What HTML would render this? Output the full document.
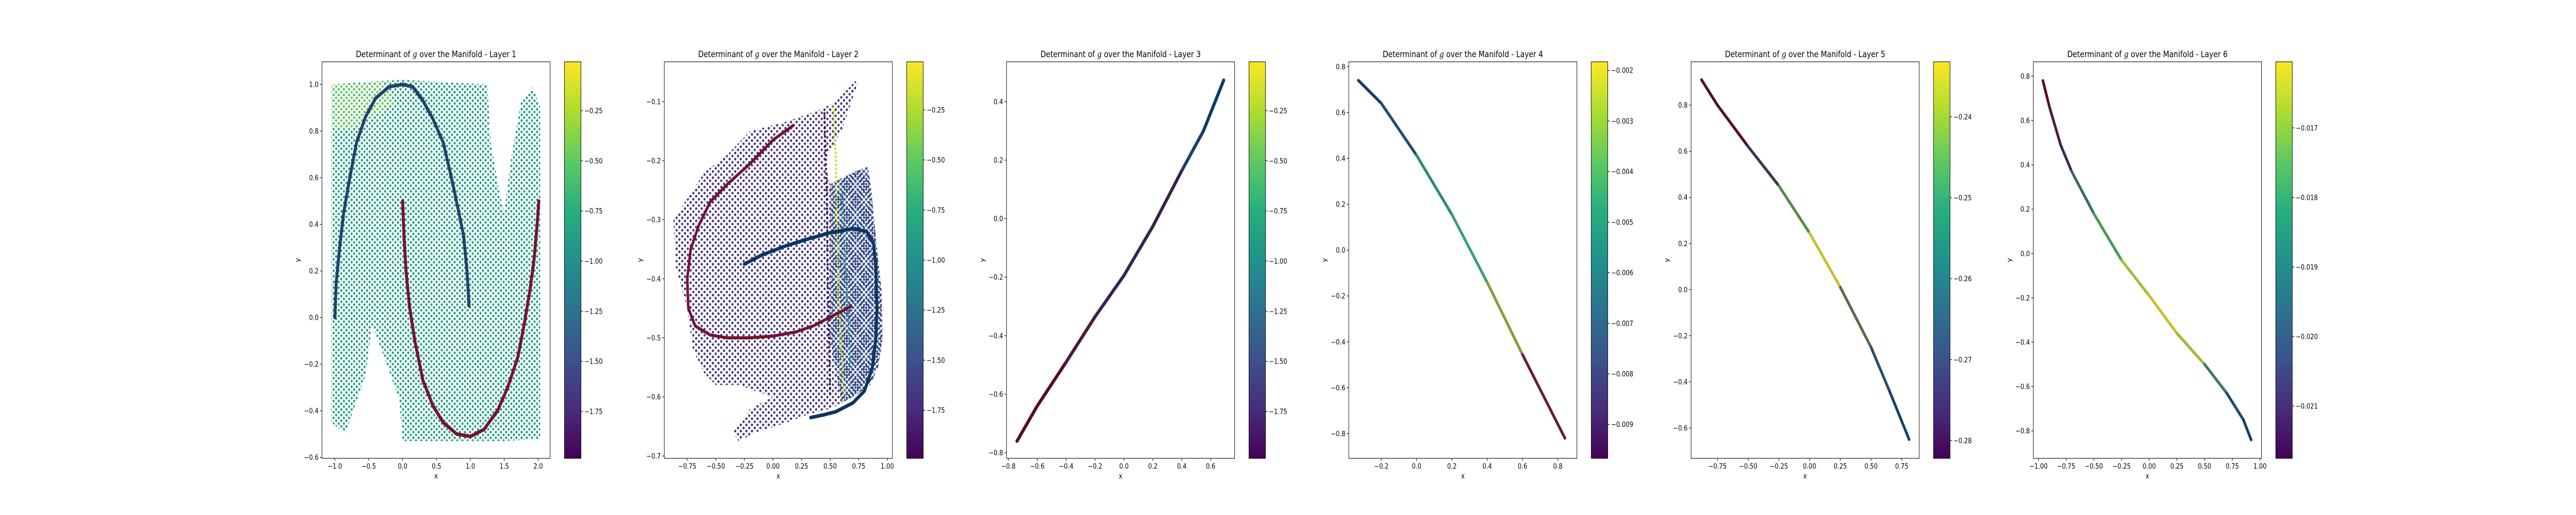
<!DOCTYPE html>
<html><head><meta charset="utf-8">
<style>
html,body{margin:0;padding:0;background:#fff;overflow:hidden;}
#fig{display:block;width:100vw;height:100vh;}
svg text{font-family:"DejaVu Sans","Liberation Sans",sans-serif;fill:#000;}
</style></head>
<body>
<svg id="fig" viewBox="0 0 6000 1000" preserveAspectRatio="none" xmlns="http://www.w3.org/2000/svg">
<defs>
<linearGradient id="viridis" x1="0" y1="1" x2="0" y2="0">
<stop offset="0" stop-color="#440154"/><stop offset="0.125" stop-color="#472d7b"/><stop offset="0.25" stop-color="#3b528b"/><stop offset="0.375" stop-color="#2c728e"/><stop offset="0.5" stop-color="#21918c"/><stop offset="0.625" stop-color="#28ae80"/><stop offset="0.75" stop-color="#5ec962"/><stop offset="0.875" stop-color="#addc30"/><stop offset="1" stop-color="#fde725"/>
</linearGradient>
<pattern id="dTeal" width="12" height="11" patternUnits="userSpaceOnUse"><circle cx="3" cy="3" r="2.6" fill="#26a085"/><circle cx="9" cy="8.5" r="2.6" fill="#22a884"/></pattern>
<pattern id="dGreen" width="12" height="11" patternUnits="userSpaceOnUse"><circle cx="3" cy="3" r="2.6" fill="#6fcb5a"/><circle cx="9" cy="8.5" r="2.6" fill="#52c469"/></pattern>
<pattern id="dPurple" width="13" height="12" patternUnits="userSpaceOnUse"><circle cx="3" cy="3" r="2.6" fill="#433e85"/><circle cx="9.5" cy="9" r="2.6" fill="#46337e"/></pattern>
<pattern id="dBlue" width="10" height="10" patternUnits="userSpaceOnUse"><circle cx="2.5" cy="2.5" r="2.6" fill="#3b528b"/><circle cx="7.5" cy="7.5" r="2.6" fill="#355f8d"/></pattern>
</defs>
</svg>
<script>
// ---- data ----
const layerTitles = ["Layer 1","Layer 2","Layer 3","Layer 4","Layer 5","Layer 6"];
const xDomains = [[-1.19,2.177],[-0.951,1.045],[-0.8125,0.766],[-0.384,0.908],[-0.965,0.892],[-1.0465,1.0134]];
const yDomains = [[-0.604,1.097],[-0.704,-0.0326],[-0.819,0.536],[-0.908,0.821],[-0.732,0.988],[-0.924,0.865]];
const xTicks = [[-1.0,-0.5,0.0,0.5,1.0,1.5,2.0],[-0.75,-0.5,-0.25,0,0.25,0.5,0.75,1.0],[-0.8,-0.6,-0.4,-0.2,0,0.2,0.4,0.6],[-0.2,0,0.2,0.4,0.6,0.8],[-0.75,-0.5,-0.25,0,0.25,0.5,0.75],[-1.0,-0.75,-0.5,-0.25,0,0.25,0.5,0.75,1.0]];
const xDec = [1,2,1,1,2,2];
const yTicks = [[-0.6,-0.4,-0.2,0,0.2,0.4,0.6,0.8,1.0],[-0.7,-0.6,-0.5,-0.4,-0.3,-0.2,-0.1],[-0.8,-0.6,-0.4,-0.2,0,0.2,0.4],[-0.8,-0.6,-0.4,-0.2,0,0.2,0.4,0.6,0.8],[-0.6,-0.4,-0.2,0,0.2,0.4,0.6,0.8],[-0.8,-0.6,-0.4,-0.2,0,0.2,0.4,0.6,0.8]];
const cbDomains = [[-1.984,-0.006],[-1.99,-0.01],[-1.984,-0.006],[-0.00967,-0.00183],[-0.2822,-0.2332],[-0.02175,-0.01605]];
const cbTicks = [[-1.75,-1.5,-1.25,-1.0,-0.75,-0.5,-0.25],[-1.75,-1.5,-1.25,-1.0,-0.75,-0.5,-0.25],[-1.75,-1.5,-1.25,-1.0,-0.75,-0.5,-0.25],[-0.009,-0.008,-0.007,-0.006,-0.005,-0.004,-0.003,-0.002],[-0.28,-0.27,-0.26,-0.25,-0.24],[-0.021,-0.020,-0.019,-0.018,-0.017]];
const cbDec = [2,2,2,3,2,3];

// background point clouds (region outlines in data coords)
const cloud1X = [-1.05,-0.6,0.0,0.6,1.25,1.3,1.42,1.5,1.6,1.75,1.92,2.03,2.03,1.5,0.0,-0.05,-0.3,-0.45,-0.55,-0.85,-1.05];
const cloud1Y = [1.0,1.01,1.02,1.01,1.0,0.75,0.55,0.45,0.68,0.93,0.99,0.9,-0.52,-0.53,-0.53,-0.35,-0.15,-0.03,-0.25,-0.5,-0.45];
const cloud1gX = [-1.05,-0.3,-0.1,-0.5,-0.8,-1.05];
const cloud1gY = [1.0,1.01,0.92,0.85,0.8,0.82];
const cloud2X = [-0.87,-0.6,-0.4,-0.2,0.1,0.4,0.55,0.72,0.74,0.6,0.45,0.5,0.7,0.83,0.86,0.9,0.95,0.96,0.92,0.85,0.7,0.5,0.3,0.1,-0.15,-0.3,-0.35,-0.2,0.0,-0.3,-0.5,-0.6,-0.7,-0.75,-0.85];
const cloud2Y = [-0.30,-0.22,-0.19,-0.15,-0.135,-0.115,-0.1,-0.065,-0.07,-0.15,-0.2,-0.24,-0.22,-0.21,-0.25,-0.33,-0.42,-0.5,-0.55,-0.58,-0.6,-0.62,-0.63,-0.645,-0.66,-0.675,-0.66,-0.62,-0.6,-0.58,-0.58,-0.56,-0.52,-0.45,-0.38];
const cloud2bX = [0.5,0.7,0.83,0.86,0.9,0.95,0.96,0.92,0.85,0.7,0.6,0.5];
const cloud2bY = [-0.24,-0.22,-0.21,-0.25,-0.33,-0.42,-0.5,-0.55,-0.58,-0.6,-0.61,-0.5];
const stripe2X = [0.53,0.55,0.56,0.57,0.6,0.62];
const stripe2Y = [-0.11,-0.2,-0.3,-0.4,-0.52,-0.6];
const dark2X = [0.45,0.47,0.48,0.49,0.5];
const dark2Y = [-0.12,-0.25,-0.4,-0.5,-0.6];
const teal2X = [0.6,0.64,0.68];
const teal2Y = [-0.25,-0.4,-0.55];

// curve series (x, y, colour per point)
const c1aX = [-1.0,-0.98,-0.93,-0.87,-0.78,-0.68,-0.55,-0.4,-0.2,0.0,0.15,0.3,0.45,0.6,0.72,0.83,0.9,0.95,0.98];
const c1aY = [0.0,0.15,0.3,0.45,0.6,0.75,0.86,0.94,0.99,1.0,0.99,0.93,0.85,0.75,0.6,0.45,0.35,0.2,0.05];
const c1bX = [0.0,0.02,0.05,0.1,0.18,0.3,0.45,0.6,0.8,1.0,1.2,1.4,1.55,1.7,1.8,1.88,1.94,1.98,2.01];
const c1bY = [0.5,0.35,0.2,0.05,-0.1,-0.27,-0.38,-0.45,-0.5,-0.51,-0.48,-0.4,-0.3,-0.17,-0.02,0.12,0.25,0.38,0.5];
const c2aX = [0.18,0.0,-0.2,-0.4,-0.55,-0.65,-0.72,-0.75,-0.74,-0.68,-0.55,-0.4,-0.2,0.0,0.2,0.35,0.5,0.6,0.68];
const c2aY = [-0.14,-0.165,-0.205,-0.24,-0.27,-0.31,-0.35,-0.4,-0.45,-0.48,-0.495,-0.5,-0.5,-0.497,-0.49,-0.48,-0.465,-0.455,-0.447];
const c2bX = [-0.25,-0.1,0.1,0.3,0.5,0.7,0.82,0.88,0.9,0.91,0.9,0.87,0.8,0.7,0.55,0.45,0.33];
const c2bY = [-0.375,-0.36,-0.345,-0.333,-0.322,-0.315,-0.32,-0.34,-0.38,-0.45,-0.5,-0.55,-0.59,-0.61,-0.625,-0.63,-0.635];
const c3X = [-0.74,-0.6,-0.4,-0.2,0.0,0.2,0.4,0.55,0.69];
const c3Y = [-0.76,-0.64,-0.49,-0.335,-0.194,-0.026,0.164,0.3,0.473];
const c3C = ["#5a0a2a","#5a0a2a","#4a1a3e","#3a2150","#33254f","#3a2048","#203c68","#0d3b66","#0d3b66"];
const c4X = [-0.33,-0.2,0.0,0.2,0.4,0.6,0.84];
const c4Y = [0.74,0.64,0.413,0.155,-0.141,-0.456,-0.82];
const c4C = ["#123d6a","#1f4a70","#2a8a7c","#3aa070","#8a9a3a","#6a1a35","#5a0a2a"];
const c5X = [-0.88,-0.75,-0.5,-0.25,0.0,0.25,0.5,0.65,0.81];
const c5Y = [0.91,0.8,0.62,0.45,0.245,0.01,-0.25,-0.44,-0.65];
const c5C = ["#5a0a2a","#5a0a2a","#3a3550","#5a8a4a","#c8c030","#5a6a4a","#2a4a70","#14406a","#14406a"];
const c6X = [-0.96,-0.9,-0.8,-0.7,-0.5,-0.25,0.0,0.25,0.5,0.7,0.85,0.92];
const c6Y = [0.78,0.66,0.49,0.37,0.18,-0.03,-0.19,-0.36,-0.5,-0.63,-0.75,-0.84];
const c6C = ["#5a0a2a","#4a1a40","#3a2a55","#3a6a6a","#4a9a5a","#a0c03a","#c8c030","#a8b83a","#3a7a6a","#1f4a70","#14406a","#14406a"];

// ---- layout ----
const NS = "http://www.w3.org/2000/svg";
const svg = document.getElementById("fig");
const AX_TOP = 120, AX_BOT = 890, AX_W = 531.4, SLOT = 797.2, LEFT0 = 750;
function el(tag, attrs, parent){ const e = document.createElementNS(NS, tag); for (const k in attrs) e.setAttribute(k, attrs[k]); (parent||svg).appendChild(e); return e; }
function fmt(v, d){ const s = Math.abs(v).toFixed(d); return (v < -1e-12 ? "\u2212" : "") + s; }

const panels = [];
for (let p = 0; p < 6; p++) {
  const L = LEFT0 + p * SLOT, R = L + AX_W;
  const xd = xDomains[p], yd = yDomains[p];
  const sx = v => L + (v - xd[0]) / (xd[1] - xd[0]) * AX_W;
  const sy = v => AX_BOT - (v - yd[0]) / (yd[1] - yd[0]) * (AX_BOT - AX_TOP);
  const g = el("g", {});
  
  
  panels.push({g, sx, sy, L, R});

  const t = el("text", {x: (L + R) / 2, y: 111, "font-size": 16.7, "text-anchor": "middle"}, g);
  
  
  t.innerHTML = 'Determinant of <tspan font-style="italic" font-family="DejaVu Serif, serif">g</tspan> over the Manifold - ' + layerTitles[p];

  const plot = el("g", {}, g);
  
  
  panels[p].plot = plot;

  xTicks[p].forEach(v => {
    const x = sx(v);
    const tk = el("line", {x1: x, x2: x, y1: AX_BOT, y2: AX_BOT + 4.9, stroke: "#000", "stroke-width": 1.1}, g);
    
    
    const lb = el("text", {x: x, y: AX_BOT + 20, "font-size": 13.9, "text-anchor": "middle"}, g);
    
    
    lb.textContent = fmt(v, xDec[p]);
  });
  yTicks[p].forEach(v => {
    const y = sy(v);
    const tk = el("line", {x1: L - 4.9, x2: L, y1: y, y2: y, stroke: "#000", "stroke-width": 1.1}, g);
    
    
    const lb = el("text", {x: L - 8, y: y + 5, "font-size": 13.9, "text-anchor": "end"}, g);
    
    
    lb.textContent = fmt(v, 1);
  });
  const xl = el("text", {x: (L + R) / 2, y: 929, "font-size": 13.9, "text-anchor": "middle"}, g);
  
  
  xl.textContent = "x";
  const yl = el("text", {x: 0, y: 0, "font-size": 13.9, "text-anchor": "middle", transform: "translate(" + (L - 52) + ",505) rotate(-90)"}, g);
  
  
  yl.textContent = "y";

  const cbL = L + 564.7, cbW = 38.5;
  const cd = cbDomains[p];
  const cy = v => AX_BOT - (v - cd[0]) / (cd[1] - cd[0]) * (AX_BOT - AX_TOP);
  const cb = el("rect", {x: cbL, y: AX_TOP, width: cbW, height: AX_BOT - AX_TOP, fill: "url(#viridis)", stroke: "#000", "stroke-width": 1.1}, g);
  
  
  cbTicks[p].forEach(v => {
    const y = cy(v);
    const tk = el("line", {x1: cbL + cbW, x2: cbL + cbW + 4.9, y1: y, y2: y, stroke: "#000", "stroke-width": 1.1}, g);
    
    
    const lb = el("text", {x: cbL + cbW + 8, y: y + 5, "font-size": 13.9}, g);
    
    
    lb.textContent = fmt(v, cbDec[p]);
  });
}

function cloud(p, xs, ys, fill, name){
  const P = panels[p];
  const pts = xs.map((x, i) => P.sx(x).toFixed(1) + "," + P.sy(ys[i]).toFixed(1)).join(" ");
  const e = el("polygon", {points: pts, fill: fill}, P.plot);
  
  
}
function curve(p, xs, ys, colors, name, width, dots){
  const P = panels[p];
  const g = el("g", {}, P.plot);
  
  
  for (let i = 0; i < xs.length - 1; i++) {
    const c = Array.isArray(colors) ? colors[i] : colors;
    const s = el("line", {x1: P.sx(xs[i]), y1: P.sy(ys[i]), x2: P.sx(xs[i+1]), y2: P.sy(ys[i+1]), stroke: c, "stroke-width": width, "stroke-linecap": "round", "stroke-dasharray": dots || "none"}, g);
    
    
  }
}

cloud(0, cloud1X, cloud1Y, "url(#dTeal)", "background-points");
cloud(0, cloud1gX, cloud1gY, "url(#dGreen)", "background-points-high");
curve(0, c1aX, c1aY, "#24416c", "upper-moon-points", 7);
curve(0, c1bX, c1bY, "#74142f", "lower-moon-points", 7);
cloud(1, cloud2X, cloud2Y, "url(#dPurple)", "background-points");
cloud(1, cloud2bX, cloud2bY, "url(#dBlue)", "background-points-right");
curve(1, dark2X, dark2Y, "#3a0a4a", "dark-band-points", 5, "0 9");
curve(1, stripe2X, stripe2Y, "#c8e020", "yellow-band-points", 5, "0 8");
curve(1, teal2X, teal2Y, "#2a9a88", "teal-band-points", 5, "0 9");
curve(1, c2aX, c2aY, "#74142f", "red-curve-points", 6);
curve(1, c2bX, c2bY, "#0d3561", "blue-curve-points", 7);
curve(2, c3X, c3Y, c3C, "manifold-points", 7);
curve(3, c4X, c4Y, c4C, "manifold-points", 6);
curve(4, c5X, c5Y, c5C, "manifold-points", 6);
curve(5, c6X, c6Y, c6C, "manifold-points", 6);

panels.forEach(P => {
  const f = el("rect", {x: P.L, y: AX_TOP, width: AX_W, height: AX_BOT - AX_TOP, fill: "none", stroke: "#000", "stroke-width": 1.1}, P.g);
  
  
});
</script>
</body></html>
